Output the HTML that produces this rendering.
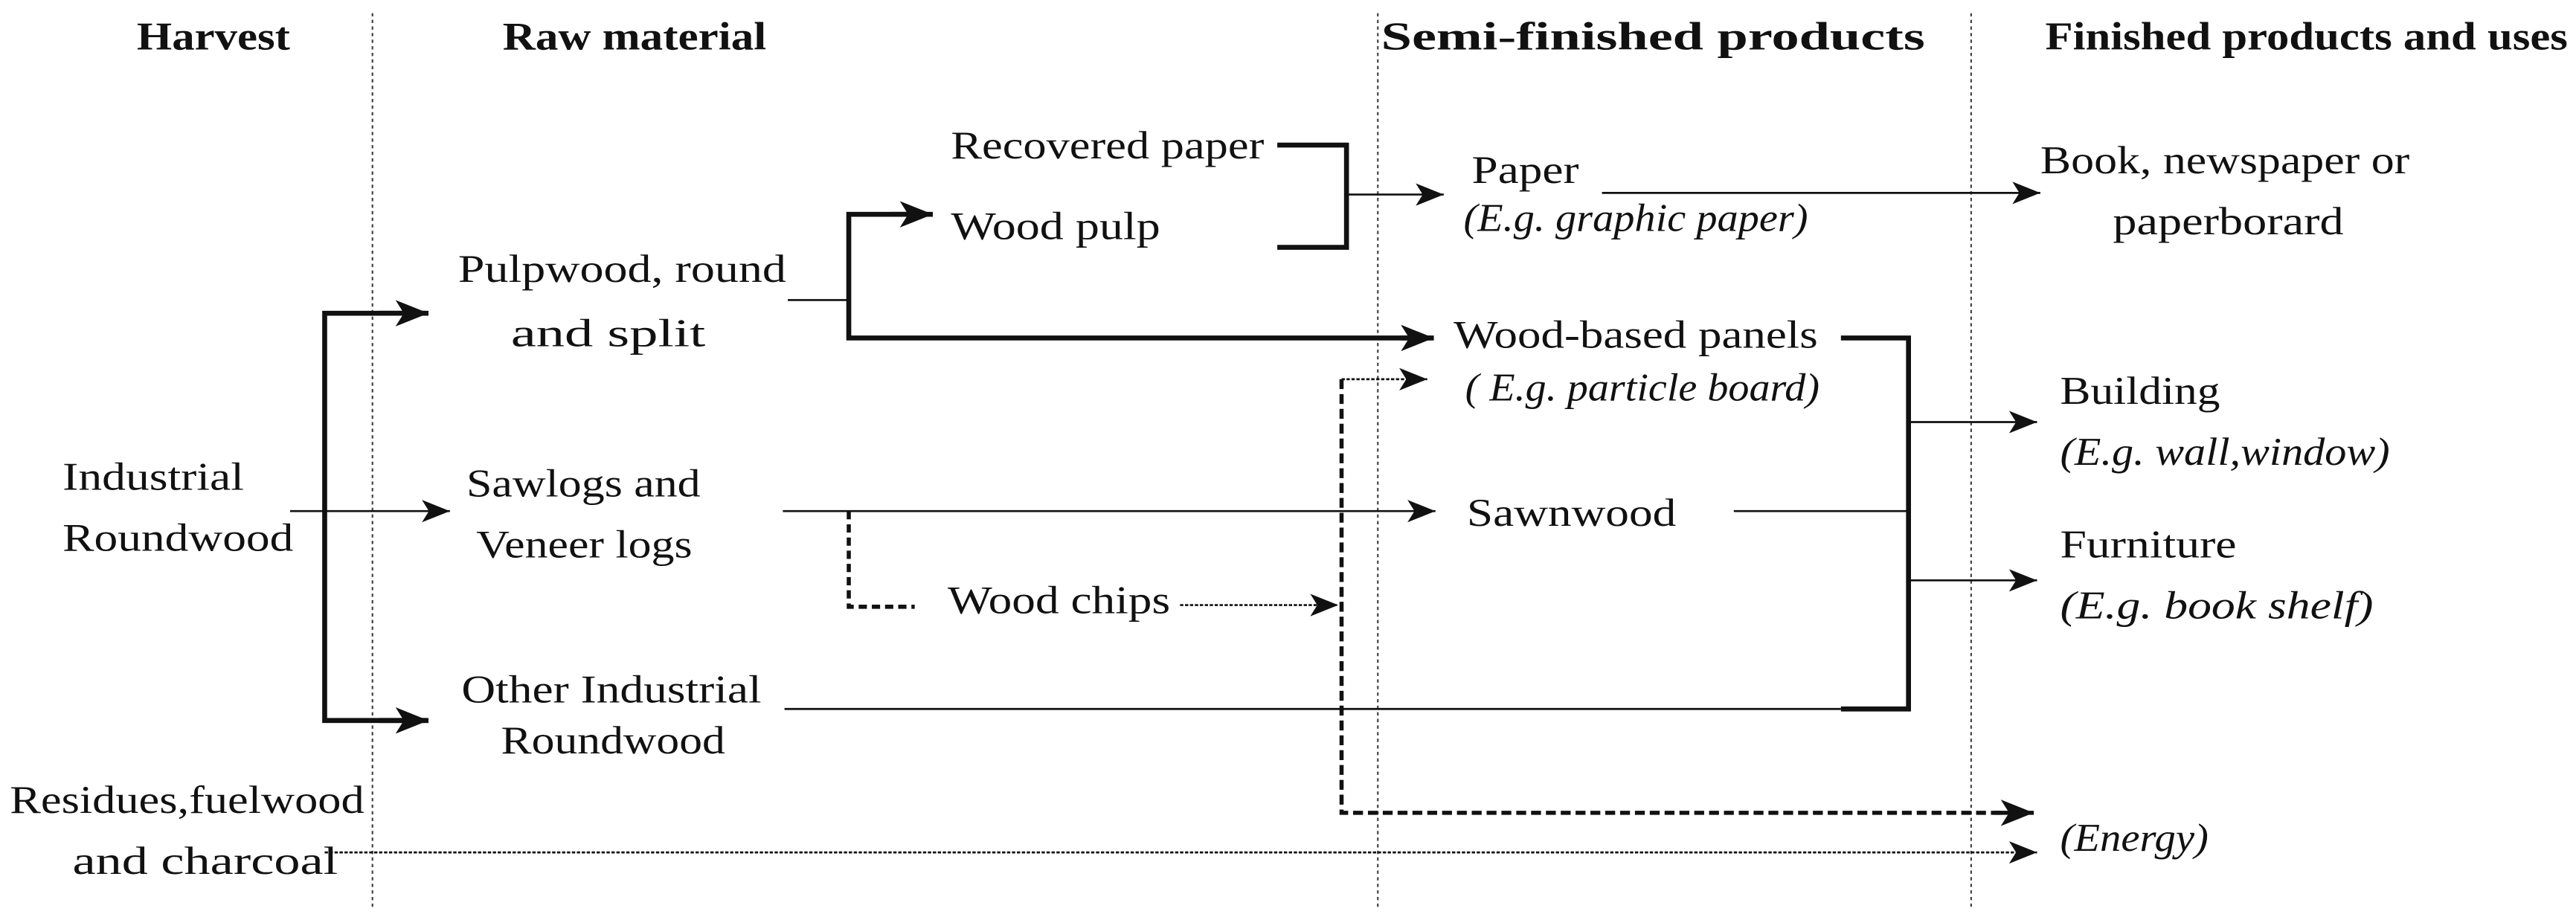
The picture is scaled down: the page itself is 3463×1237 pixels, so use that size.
<!DOCTYPE html>
<html><head><meta charset="utf-8"><style>
html,body{margin:0;padding:0;background:#fff;}
svg{display:block;}
text{font-family:"Liberation Serif",serif;font-size:24px;fill:#111;}
.b{font-weight:bold;}
.i{font-style:italic;}
</style></head><body>
<svg width="3463" height="1237" viewBox="0 0 1563 558" preserveAspectRatio="none" xmlns="http://www.w3.org/2000/svg">
<defs>
<marker id="a" viewBox="0 0 20 16" refX="20" refY="8" markerWidth="20" markerHeight="16" markerUnits="userSpaceOnUse" orient="auto"><path d="M0,0 L20,8 L0,16 L5,8 Z" fill="#111"/></marker>
<marker id="s" viewBox="0 0 20 16" refX="20" refY="8" markerWidth="17" markerHeight="14" markerUnits="userSpaceOnUse" orient="auto"><path d="M0,0 L20,8 L0,16 L5,8 Z" fill="#111"/></marker>
</defs>
<g stroke="#444" stroke-width="1" stroke-dasharray="2,2">
<line x1="226" y1="8" x2="226" y2="550"/>
<line x1="836" y1="8" x2="836" y2="550"/>
<line x1="1196" y1="8" x2="1196" y2="550"/>
</g>
<text class="b" x="83" y="30" textLength="93" lengthAdjust="spacingAndGlyphs">Harvest</text>
<text class="b" x="305" y="30" textLength="160" lengthAdjust="spacingAndGlyphs">Raw material</text>
<text class="b" x="838" y="30" textLength="330" lengthAdjust="spacingAndGlyphs">Semi-finished products</text>
<text class="b" x="1241" y="30" textLength="317" lengthAdjust="spacingAndGlyphs">Finished products and uses</text>

<text x="38" y="297" textLength="110" lengthAdjust="spacingAndGlyphs">Industrial</text>
<text x="38" y="334" textLength="140" lengthAdjust="spacingAndGlyphs">Roundwood</text>
<text x="278" y="171" textLength="199" lengthAdjust="spacingAndGlyphs">Pulpwood, round</text>
<text x="310" y="210" textLength="118" lengthAdjust="spacingAndGlyphs">and split</text>
<text x="577" y="96" textLength="190" lengthAdjust="spacingAndGlyphs">Recovered paper</text>
<text x="577" y="145" textLength="127" lengthAdjust="spacingAndGlyphs">Wood pulp</text>
<text x="893" y="111" textLength="65" lengthAdjust="spacingAndGlyphs">Paper</text>
<text class="i" x="888" y="140" textLength="209" lengthAdjust="spacingAndGlyphs">(E.g. graphic paper)</text>
<text x="1238" y="105" textLength="224" lengthAdjust="spacingAndGlyphs">Book, newspaper or</text>
<text x="1282" y="142" textLength="140" lengthAdjust="spacingAndGlyphs">paperborard</text>
<text x="882" y="211" textLength="221" lengthAdjust="spacingAndGlyphs">Wood-based panels</text>
<text class="i" x="889" y="243" textLength="215" lengthAdjust="spacingAndGlyphs">( E.g. particle board)</text>
<text x="283" y="301" textLength="142" lengthAdjust="spacingAndGlyphs">Sawlogs and</text>
<text x="289" y="338" textLength="131" lengthAdjust="spacingAndGlyphs">Veneer logs</text>
<text x="575" y="372" textLength="135" lengthAdjust="spacingAndGlyphs">Wood chips</text>
<text x="890" y="319" textLength="127" lengthAdjust="spacingAndGlyphs">Sawnwood</text>
<text x="1250" y="245" textLength="97" lengthAdjust="spacingAndGlyphs">Building</text>
<text class="i" x="1250" y="282" textLength="200" lengthAdjust="spacingAndGlyphs">(E.g. wall,window)</text>
<text x="1250" y="338" textLength="107" lengthAdjust="spacingAndGlyphs">Furniture</text>
<text class="i" x="1250" y="375" textLength="190" lengthAdjust="spacingAndGlyphs">(E.g. book shelf)</text>
<text x="280" y="426" textLength="182" lengthAdjust="spacingAndGlyphs">Other Industrial</text>
<text x="304" y="457" textLength="136" lengthAdjust="spacingAndGlyphs">Roundwood</text>
<text x="6" y="493" textLength="215" lengthAdjust="spacingAndGlyphs">Residues,fuelwood</text>
<text x="44" y="530" textLength="161" lengthAdjust="spacingAndGlyphs">and charcoal</text>
<text class="i" x="1250" y="516" textLength="90" lengthAdjust="spacingAndGlyphs">(Energy)</text>

<g fill="none" stroke="#111">
<path d="M258,190 L197,190 L197,437 L258,437" stroke-width="3"/>
<line x1="230" y1="190" x2="260" y2="190" stroke-width="3" marker-end="url(#a)"/>
<line x1="230" y1="437" x2="260" y2="437" stroke-width="3" marker-end="url(#a)"/>
<line x1="176" y1="310" x2="273" y2="310" stroke-width="1.2" marker-end="url(#s)"/>
<line x1="478" y1="182" x2="515" y2="182" stroke-width="1.2"/>
<path d="M562,130 L515,130 L515,205 L868,205" stroke-width="3"/>
<line x1="540" y1="130" x2="566" y2="130" stroke-width="3" marker-end="url(#a)"/>
<line x1="850" y1="205" x2="870" y2="205" stroke-width="3" marker-end="url(#a)"/>
<path d="M775,88 L817,88 L817,150 L775,150" stroke-width="3"/>
<line x1="817" y1="118" x2="876" y2="118" stroke-width="1.2" marker-end="url(#s)"/>
<line x1="972" y1="117" x2="1238" y2="117" stroke-width="1.2" marker-end="url(#s)"/>
<line x1="475" y1="310" x2="871" y2="310" stroke-width="1.2" marker-end="url(#s)"/>
<path d="M515,310 L515,368 L555,368" stroke-width="2.5" stroke-dasharray="5,3"/>
<line x1="716" y1="367" x2="812" y2="367" stroke-width="1.2" stroke-dasharray="2,1" marker-end="url(#s)"/>
<path d="M814,230 L814,493 L1215,493" stroke-width="2.5" stroke-dasharray="6,3"/>
<line x1="1210" y1="493" x2="1234" y2="493" stroke-width="2.5" marker-end="url(#a)"/>
<line x1="814" y1="230" x2="866" y2="230" stroke-width="1.2" stroke-dasharray="2,1" marker-end="url(#s)"/>
<line x1="1052" y1="310" x2="1158" y2="310" stroke-width="1.2"/>
<path d="M1117,205 L1158,205 L1158,430 L1117,430" stroke-width="3"/>
<line x1="1158" y1="256" x2="1236" y2="256" stroke-width="1.2" marker-end="url(#s)"/>
<line x1="1158" y1="352" x2="1236" y2="352" stroke-width="1.2" marker-end="url(#s)"/>
<line x1="476" y1="430" x2="1117" y2="430" stroke-width="1.2"/>
<line x1="197" y1="517" x2="1236" y2="517" stroke-width="1.2" stroke-dasharray="2,1" marker-end="url(#s)"/>
</g>
</svg>
</body></html>
